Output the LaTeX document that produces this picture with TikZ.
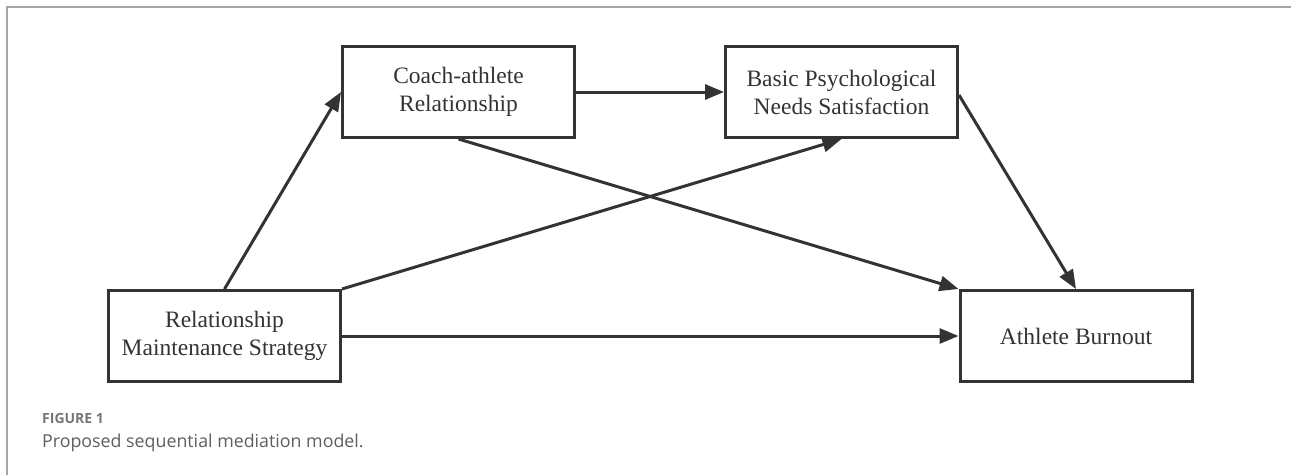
\documentclass[tikz,border=0pt]{standalone}
\usepackage{fontspec}
\setmainfont{Liberation Serif}
\newfontfamily\capfont{Open Sans}
\usetikzlibrary{arrows.meta}
\definecolor{ink}{HTML}{333333}
\definecolor{capgray}{HTML}{5E5E5E}
\begin{document}
\begin{tikzpicture}[x=1pt,y=-1pt,
    box/.style={draw=ink,line width=3pt,minimum width=232pt,minimum height=91pt,
      align=center,text=ink,font=\fontsize{23.5}{28}\selectfont,inner sep=0pt},
    arr/.style={draw=ink,line width=3pt,-{Triangle[length=19pt,width=15pt]}}]
  \useasboundingbox (0,0) rectangle (1291,475);
  % the frame
  \draw[gray!70,line width=1.2pt] (7,475) -- (7,7) -- (1291,7);
  % the variables
  \node[box] (coach) at (458.5,92) {Coach-athlete\\Relationship};
  \node[box] (needs) at (841.5,92) {Basic Psychological\\Needs Satisfaction};
  \node[box] (rms)   at (224.5,336) {Relationship\\Maintenance Strategy};
  \node[box] (burn)  at (1076,336) {Athlete Burnout};
  % the paths
  \draw[arr] (rms.north) -- (coach.west);
  \draw[arr] (coach.east) -- (needs.west);
  \draw[arr] (coach.south) -- (burn.north west);
  \draw[arr] (rms.north east) -- (needs.south);
  \draw[arr] ([yshift=-3pt]needs.east) -- (burn.north);
  \draw[arr] (rms.east) -- (burn.west);
  % the caption
  \node[anchor=base west,inner sep=0pt,text=capgray!85!white,
        font=\capfont\fontsize{14}{16}\selectfont\bfseries] (fig) at (42,423) {FIGURE 1};
  \node[anchor=base west,inner sep=0pt,text=capgray,
        font=\capfont\fontsize{17.8}{21}\selectfont] (cap) at (42,447)
        {Proposed sequential mediation model.};
\end{tikzpicture}
\end{document}
